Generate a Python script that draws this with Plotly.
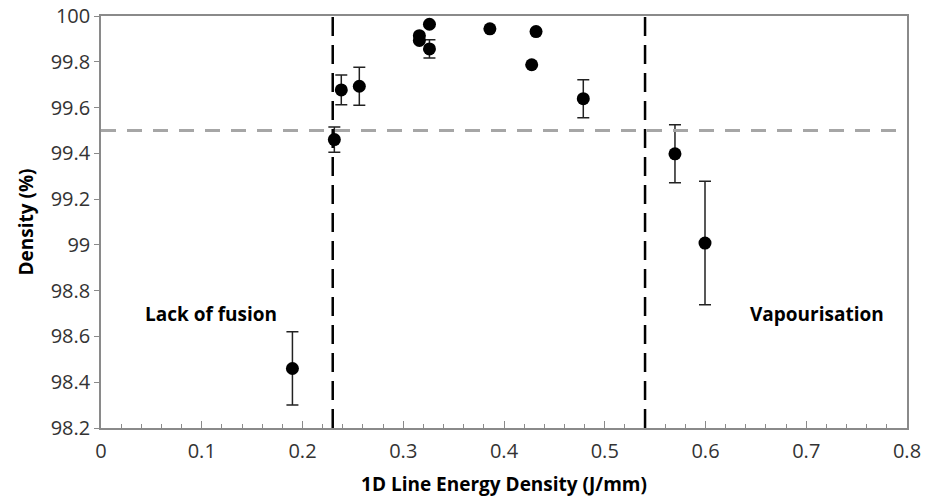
import plotly.graph_objects as go

energy = [0.190, 0.2316, 0.2385, 0.2564, 0.316, 0.316, 0.326, 0.326, 0.386, 0.4318, 0.4275, 0.4787, 0.5697, 0.5995]
density = [98.46, 99.46, 99.677, 99.693, 99.914, 99.893, 99.964, 99.856, 99.944, 99.932, 99.787, 99.639, 99.398, 99.008]
err = [0.16, 0.055, 0.065, 0.083, 0.0, 0.0, 0.0, 0.04, 0.0, 0.0, 0.0, 0.083, 0.127, 0.27]

threshold_density = 99.5
boundaries = [0.23, 0.54]
labels = ["Lack of fusion", "Vapourisation"]
label_x = [0.109, 0.711]
label_y = [98.70, 98.70]

font = "Open Sans"

fig = go.Figure()
fig.add_trace(go.Scatter(
    x=energy, y=density, mode="markers",
    marker=dict(color="black", size=13),
    error_y=dict(type="data", array=err, visible=True, color="#222", thickness=1.5, width=6),
    showlegend=False,
))

fig.add_shape(type="line", xref="paper", x0=0, x1=1, yref="y", y0=threshold_density, y1=threshold_density,
              line=dict(color="#a6a6a6", width=3, dash="15px,11px"))
for b in boundaries:
    fig.add_shape(type="line", xref="x", x0=b, x1=b, yref="paper", y0=0, y1=1,
                  line=dict(color="black", width=2.5, dash="19px,9px"))

for t, xx, yy in zip(labels, label_x, label_y):
    fig.add_annotation(x=xx, y=yy, text="<b>" + t + "</b>", showarrow=False,
                       font=dict(family=font, size=19, color="black"))

fig.update_layout(
    width=935, height=497,
    margin=dict(l=101, r=28, t=16, b=69, autoexpand=False),
    plot_bgcolor="white", paper_bgcolor="white",
    font=dict(family=font, size=19, color="#333"),
)
fig.update_xaxes(
    range=[0, 0.8], dtick=0.1, tickformat="~g",
    showgrid=False, zeroline=False,
    showline=True, linecolor="#8a8a8a", linewidth=1.5, mirror=True,
    ticks="inside", ticklen=7, tickcolor="#8a8a8a",
    minor=dict(dtick=0.02, ticks="inside", ticklen=4, tickcolor="#8a8a8a"),
    title=dict(text="<b>1D Line Energy Density (J/mm)</b>", font=dict(family=font, size=19, color="black"), standoff=16),
    tickfont=dict(size=20), ticklabelstandoff=4, automargin=False,
)
fig.update_yaxes(
    range=[98.2, 100], dtick=0.2, tickformat="~g",
    showgrid=False, zeroline=False,
    showline=True, linecolor="#8a8a8a", linewidth=1.5, mirror=True,
    ticks="outside", ticklen=5, tickcolor="#8a8a8a",
    title=dict(text="<b>Density (%)</b>", font=dict(family=font, size=19, color="black"), standoff=12),
    tickfont=dict(size=20), automargin=False,
)

fig.write_html("out.html", config={"displayModeBar": False},
               post_script="document.body.style.margin='0';")
